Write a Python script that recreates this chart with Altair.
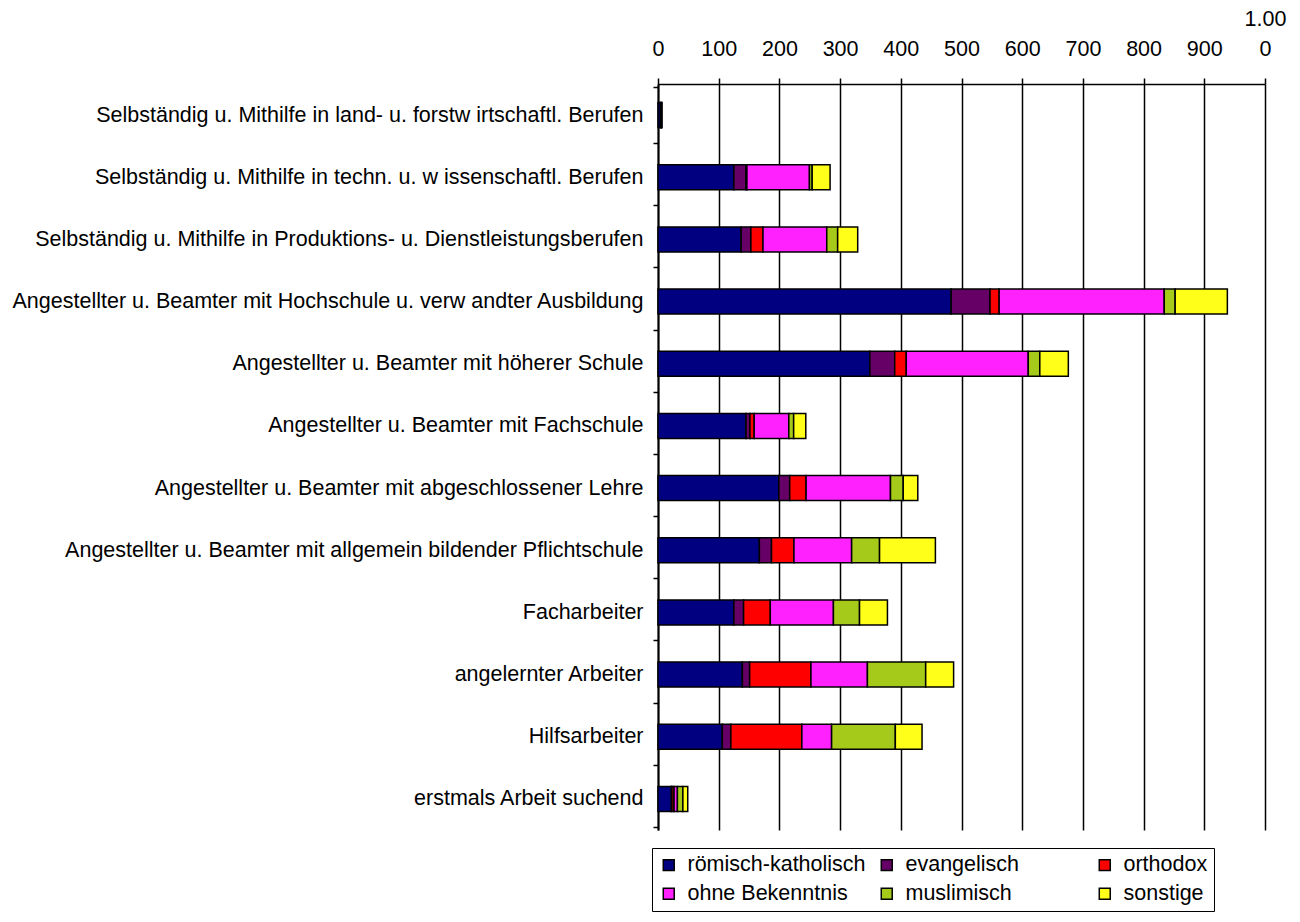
import altair as alt
import pandas as pd

categories = [
    "Selbständig u. Mithilfe in land- u. forstw irtschaftl. Berufen",
    "Selbständig u. Mithilfe in techn. u. w issenschaftl. Berufen",
    "Selbständig u. Mithilfe in Produktions- u. Dienstleistungsberufen",
    "Angestellter u. Beamter mit Hochschule u. verw andter Ausbildung",
    "Angestellter u. Beamter mit höherer Schule",
    "Angestellter u. Beamter mit Fachschule",
    "Angestellter u. Beamter mit abgeschlossener Lehre",
    "Angestellter u. Beamter mit allgemein bildender Pflichtschule",
    "Facharbeiter",
    "angelernter Arbeiter",
    "Hilfsarbeiter",
    "erstmals Arbeit suchend",
]

series = ["römisch-katholisch", "evangelisch", "orthodox",
          "ohne Bekenntnis", "muslimisch", "sonstige"]
colors = ["#000080", "#660066", "#FF0000", "#FF22FF", "#A6CA1A", "#FFFF1A"]

roemisch_katholisch = [4, 125, 137, 483, 349, 145, 199, 167, 125, 139, 106, 22]
evangelisch = [0.5, 20, 16, 64, 41, 6.5, 18, 20, 16, 12, 14, 1]
orthodox = [0.3, 1.5, 20, 15, 19, 7, 27, 37, 44, 101, 117, 3.5]
ohne_bekenntnis = [1, 103, 105, 272, 201, 57, 139, 95, 104, 93, 49, 5.5]
muslimisch = [0.2, 4.5, 18, 18, 19, 8, 21, 46, 43, 96, 105, 9]
sonstige = [0.5, 29.5, 33, 86, 47, 20, 24, 92, 46, 46, 44, 8]

x_ticks = list(range(0, 1001, 100))

values = [roemisch_katholisch, evangelisch, orthodox,
          ohne_bekenntnis, muslimisch, sonstige]

rows = []
for si, (s, vals) in enumerate(zip(series, values)):
    for c, v in zip(categories, vals):
        rows.append({"Kategorie": c, "Religion": s, "Wert": v, "ord": si})
df = pd.DataFrame(rows)

FS = 21.5

chart = alt.Chart(df).mark_bar(
    stroke="black", strokeWidth=1.5, size=25
).encode(
    y=alt.Y("Kategorie:N", sort=categories, title=None,
            axis=alt.Axis(labelFontSize=FS, labelColor="black", labelLimit=800,
                          labelPadding=10, tickSize=5, tickColor="black",
                          tickWidth=1.5, tickBand="extent",
                          domainColor="black", domainWidth=2, grid=False)),
    x=alt.X("Wert:Q", stack="zero", title=None,
            scale=alt.Scale(domain=[0, 1000], nice=False),
            axis=alt.Axis(orient="top", values=x_ticks,
                          labelExpr="datum.value == 1000 ? ['1.00', '0'] : [' ', datum.label]",
                          labelFontSize=FS, labelColor="black", labelPadding=48,
                          labelLineHeight=30, labelFlush=False,
                          tickSize=6, tickColor="black", tickWidth=1.5,
                          domainColor="black", domainWidth=1.5,
                          grid=True, gridColor="black", gridWidth=1.5,
                          gridOpacity=1)),
    color=alt.Color("Religion:N", sort=series,
                    scale=alt.Scale(domain=series, range=colors),
                    legend=alt.Legend(title=None, orient="none",
                                      legendX=-6, legendY=764, columns=3,
                                      direction="horizontal",
                                      symbolType="square", symbolSize=120,
                                      symbolStrokeColor="black",
                                      symbolStrokeWidth=1.5,
                                      labelFontSize=FS, labelColor="black",
                                      labelLimit=400, labelOffset=8,
                                      columnPadding=10, rowPadding=6,
                                      padding=6, strokeColor="black",
                                      fillColor="white", gridAlign="all")),
    order=alt.Order("ord:Q"),
).properties(
    width=607, height=746,
    autosize=alt.AutoSizeParams(type="none"),
    padding={"left": 650, "top": 76, "right": 25, "bottom": 90},
    background="white",
).configure(
    font="Liberation Sans",
).configure_view(
    stroke=None,
)

chart.save("out.html", embed_options={"renderer": "svg", "actions": False})
